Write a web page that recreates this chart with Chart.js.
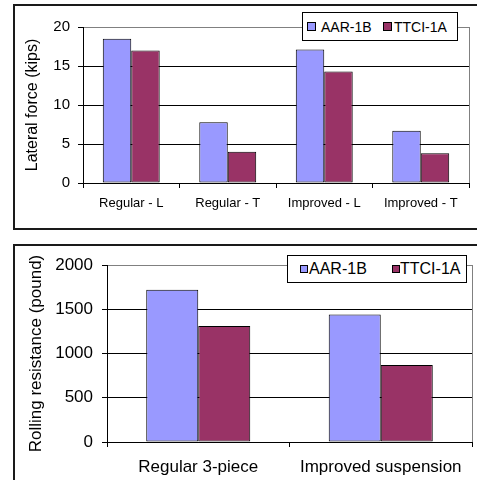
<!DOCTYPE html>
<html>
<head>
<meta charset="utf-8">
<script src="https://cdn.jsdelivr.net/npm/chart.js@4.4.1/dist/chart.umd.min.js"></script>
<style>
  html, body { margin: 0; padding: 0; background: #fff; overflow: hidden; }
  body { width: 477px; height: 480px; position: relative; font-family: 'Liberation Sans', Arial, sans-serif; }
  .frame { position: absolute; border: 2px solid #1a1a1a; box-sizing: border-box; }
  .holder { position: absolute; left: 0; width: 477px; height: 240px; }
  .legend { position: absolute; border: 1px solid #000; background: #fff; box-sizing: border-box; color: #000; }
  .legend .sw { position: absolute; border: 1px solid #000; box-sizing: border-box; }
  .legend .lb { position: absolute; white-space: nowrap; line-height: 1; }
</style>
</head>
<body>
<div class="frame" style="left:13px; top:4px; width:500px; height:226px;"></div>
<div class="frame" style="left:13px; top:244px; width:500px; height:260px;"></div>

<div class="holder" style="top:0px;"><canvas id="lateral"></canvas></div>
<div class="holder" style="top:240px;"><canvas id="rolling"></canvas></div>

<div class="legend" id="legTop" style="left:302px; top:12px; width:156px; height:29px;"></div>
<div class="legend" id="legBottom" style="left:287px; top:255px; width:180px; height:28px;"></div>

<script>
// Series names and colours
const seriesNames = ['AAR-1B', 'TTCI-1A'];
const seriesColors = ['#9999FF', '#993366'];

// Lateral force (kips)
const lateralCategories = ['Regular - L', 'Regular - T', 'Improved - L', 'Improved - T'];
const lateralAAR = [18.5, 7.8, 17.1, 6.7];
const lateralTTCI = [17.0, 4.0, 14.3, 3.8];

// Rolling resistance (pound)
const rollingCategories = ['Regular 3-piece', 'Improved suspension'];
const rollingAAR = [1720, 1440];
const rollingTTCI = [1310, 870];

const FONT = "'Liberation Sans', Arial, sans-serif";
Chart.defaults.color = '#000';
Chart.defaults.font.family = FONT;

// Gray border on the right side of the plot area
const plotFrame = {
  id: 'plotFrame',
  afterDatasetsDraw(chart) {
    const { ctx, chartArea: a } = chart;
    ctx.save();
    ctx.strokeStyle = '#808080';
    ctx.lineWidth = 1;
    ctx.beginPath();
    ctx.moveTo(Math.round(a.right) + 0.5, a.top);
    ctx.lineTo(Math.round(a.right) + 0.5, a.bottom);
    ctx.stroke();
    ctx.restore();
  }
};

function makeChart(id, cfg) {
  return new Chart(document.getElementById(id), {
    type: 'bar',
    data: {
      labels: cfg.labels,
      datasets: [
        { label: seriesNames[0], data: cfg.a, backgroundColor: seriesColors[0] },
        { label: seriesNames[1], data: cfg.b, backgroundColor: seriesColors[1] }
      ].map(d => Object.assign(d, {
        borderColor: '#000', borderWidth: 1, borderSkipped: false,
        categoryPercentage: cfg.catPct, barPercentage: 1.0
      }))
    },
    options: {
      responsive: true,
      maintainAspectRatio: false,
      animation: false,
      devicePixelRatio: 1,
      layout: { padding: { top: cfg.padTop, right: cfg.padRight, left: 0, bottom: 0 } },
      plugins: { legend: { display: false }, tooltip: { enabled: false } },
      scales: {
        x: {
          afterFit: s => { s.height = cfg.xHeight; },
          grid: { drawOnChartArea: false, drawTicks: true, tickLength: 5, color: '#000', offset: true },
          border: { color: '#000', width: 1 },
          ticks: { font: { size: cfg.catFont, family: FONT }, color: '#000', padding: cfg.xPad, maxRotation: 0, autoSkip: false }
        },
        y: {
          min: 0, max: cfg.max,
          afterFit: s => { s.width = cfg.yWidth; },
          grid: {
            color: c => (c.tick && c.tick.value === cfg.max) ? '#808080' : '#000',
            tickColor: '#000', tickLength: 5, drawTicks: true
          },
          border: { color: '#000', width: 1 },
          ticks: {
            stepSize: cfg.step, font: { size: cfg.tickFont, family: FONT }, color: '#000', padding: cfg.yPad,
            callback: v => String(v)
          },
          title: {
            display: true, text: cfg.title, color: '#000',
            font: { size: cfg.titleFont, family: FONT, weight: 'normal' },
            padding: { top: cfg.titlePad, bottom: 0 }
          }
        }
      }
    },
    plugins: [plotFrame]
  });
}

makeChart('lateral', {
  labels: lateralCategories, a: lateralAAR, b: lateralTTCI,
  max: 20, step: 5, catPct: 0.59,
  padTop: 27, padRight: 8, yWidth: 83, xHeight: 57,
  catFont: 13, tickFont: 15, titleFont: 16, titlePad: 23, xPad: 8, yPad: 8,
  title: 'Lateral force (kips)'
});

makeChart('rolling', {
  labels: rollingCategories, a: rollingAAR, b: rollingTTCI,
  max: 2000, step: 500, catPct: 0.57,
  padTop: 25, padRight: 5, yWidth: 107, xHeight: 38,
  catFont: 17, tickFont: 17, titleFont: 17, titlePad: 26, xPad: 10, yPad: 9,
  title: 'Rolling resistance (pound)'
});

// Legend boxes drawn as HTML
function buildLegend(id, items) {
  const box = document.getElementById(id);
  items.forEach(it => {
    const sw = document.createElement('div');
    sw.className = 'sw';
    sw.style.cssText = `left:${it.sx}px; top:${it.sy}px; width:${it.ss}px; height:${it.ss}px; background:${it.color};`;
    box.appendChild(sw);
    const lb = document.createElement('div');
    lb.className = 'lb';
    lb.textContent = it.text;
    lb.style.cssText = `left:${it.tx}px; top:${it.ty}px; font-size:${it.fs}px;`;
    box.appendChild(lb);
  });
}

buildLegend('legTop', [
  { text: seriesNames[0], color: seriesColors[0], sx: 4, sy: 9, ss: 9, tx: 18, ty: 7, fs: 14 },
  { text: seriesNames[1], color: seriesColors[1], sx: 80, sy: 9, ss: 9, tx: 91, ty: 7, fs: 14 }
]);
buildLegend('legBottom', [
  { text: seriesNames[0], color: seriesColors[0], sx: 12, sy: 9, ss: 8, tx: 21, ty: 5, fs: 16 },
  { text: seriesNames[1], color: seriesColors[1], sx: 104, sy: 9, ss: 8, tx: 112, ty: 5, fs: 16 }
]);
</script>
</body>
</html>
